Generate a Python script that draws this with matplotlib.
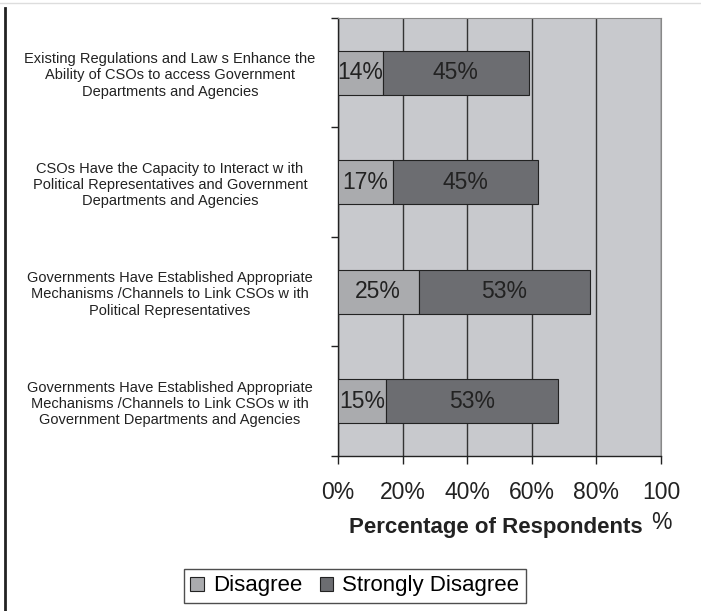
import numpy as np
import matplotlib.pyplot as plt
from matplotlib.lines import Line2D
from matplotlib.patches import Patch

plt.rcParams['font.family'] = ['Liberation Sans', 'DejaVu Sans']

statements = [
    "Existing Regulations and Law s Enhance the\nAbility of CSOs to access Government\nDepartments and Agencies",
    "CSOs Have the Capacity to Interact w ith\nPolitical Representatives and Government\nDepartments and Agencies",
    "Governments Have Established Appropriate\nMechanisms /Channels to Link CSOs w ith\nPolitical Representatives",
    "Governments Have Established Appropriate\nMechanisms /Channels to Link CSOs w ith\nGovernment Departments and Agencies",
]
disagree = [14, 17, 25, 15]
strongly_disagree = [45, 45, 53, 53]
xtick_labels = ["0%", "20%", "40%", "60%", "80%", "100\n%"]

c_bg = "#c8c9cd"
c_dis = "#aaabae"
c_str = "#6c6d71"

fig = plt.figure(figsize=(7.01, 6.11), dpi=100)
ax = fig.add_axes([0.482, 0.2537, 0.461, 0.7169])
ax.set_facecolor(c_bg)

y = np.arange(len(statements))
ax.barh(y, disagree, height=0.4, color=c_dis, edgecolor="#222222", linewidth=0.8, zorder=3)
ax.barh(y, strongly_disagree, left=disagree, height=0.4, color=c_str,
        edgecolor="#222222", linewidth=0.8, zorder=3)

for i in range(len(statements)):
    ax.text(disagree[i] / 2, y[i], f"{disagree[i]}%", ha="center", va="center",
            fontsize=16.5, color="#222222", zorder=4)
    ax.text(disagree[i] + strongly_disagree[i] / 2, y[i], f"{strongly_disagree[i]}%",
            ha="center", va="center", fontsize=16.5, color="#222222", zorder=4)

ax.set_xlim(0, 100)
ax.set_ylim(len(statements) - 0.5, -0.5)
ax.set_xticks(range(0, 101, 20))
ax.set_xticklabels(xtick_labels, fontsize=16.5, color="#222222", linespacing=1.4)
ax.xaxis.grid(True, color="#333333", linewidth=1.0, zorder=1)
ax.set_axisbelow(True)

ax.set_yticks(y)
ax.set_yticklabels(statements, fontsize=10.5, color="#222222", ha="center", linespacing=1.2)
ax.set_yticks(np.arange(-0.5, len(statements)), minor=True)
ax.tick_params(axis="y", which="major", length=0, pad=121)
ax.tick_params(axis="y", which="minor", length=5, width=1, color="#222222")
ax.tick_params(axis="x", length=6, width=1, color="#222222", pad=12)

for s in ["top", "right"]:
    ax.spines[s].set_color("#888888")
for s in ["left", "bottom"]:
    ax.spines[s].set_color("#222222")
    ax.spines[s].set_linewidth(1.0)

fig.text(0.708, 1 - 528 / 611, "Percentage of Respondents", ha="center", va="center",
         fontsize=16, fontweight="bold", color="#222222")

handles = [Patch(facecolor=c_dis, edgecolor="#222222", linewidth=0.8),
           Patch(facecolor=c_str, edgecolor="#222222", linewidth=0.8)]
leg = fig.legend(handles, ["Disagree", "Strongly Disagree"], loc="center",
                 bbox_to_anchor=(0.506, 0.041), ncol=2, fontsize=16, frameon=True,
                 fancybox=False, handlelength=0.6, handleheight=0.6, handletextpad=0.4,
                 columnspacing=0.8, borderpad=0.3)
leg.get_frame().set_edgecolor("#222222")
leg.get_frame().set_linewidth(1.0)

fig.add_artist(Line2D([0, 1], [1 - 3 / 611, 1 - 3 / 611], color="#dddddd", linewidth=1))
fig.add_artist(Line2D([5 / 701, 5 / 701], [0, 1 - 8 / 611], color="#222222", linewidth=2))

fig.savefig("out.png", dpi=100)
